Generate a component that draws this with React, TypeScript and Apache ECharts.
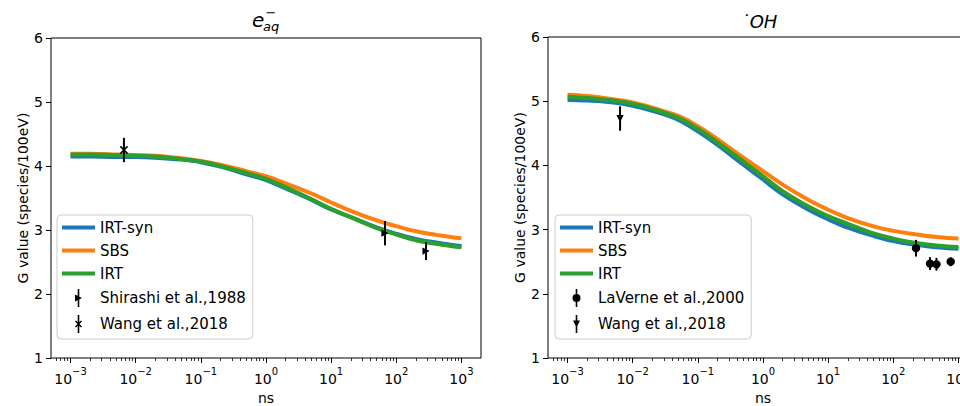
import React, { useEffect, useRef } from 'react';
import * as echarts from 'echarts';

// ---------- data ----------
const TIMES_NS = [0.001, 0.002, 0.005, 0.01, 0.02, 0.05, 0.1, 0.2, 0.5, 1, 2, 5, 10, 20, 50, 100, 200, 500, 1000];

const EAQ_IRT_SYN = [4.15, 4.15, 4.14, 4.14, 4.13, 4.10, 4.06, 3.99, 3.87, 3.78, 3.65, 3.47, 3.32, 3.20, 3.04, 2.94, 2.86, 2.79, 2.75];
const EAQ_SBS = [4.19, 4.19, 4.18, 4.17, 4.16, 4.12, 4.08, 4.02, 3.92, 3.84, 3.73, 3.57, 3.43, 3.30, 3.15, 3.06, 2.98, 2.91, 2.87];
const EAQ_IRT = [4.18, 4.18, 4.17, 4.16, 4.15, 4.11, 4.07, 4.00, 3.89, 3.80, 3.67, 3.48, 3.33, 3.20, 3.03, 2.93, 2.84, 2.77, 2.73];

const OH_IRT_SYN = [5.02, 5.01, 4.98, 4.93, 4.85, 4.71, 4.53, 4.32, 4.01, 3.78, 3.55, 3.31, 3.16, 3.03, 2.90, 2.82, 2.77, 2.72, 2.70];
const OH_SBS = [5.10, 5.08, 5.03, 4.98, 4.90, 4.77, 4.61, 4.41, 4.12, 3.91, 3.70, 3.46, 3.31, 3.18, 3.05, 2.98, 2.93, 2.88, 2.86];
const OH_IRT = [5.07, 5.05, 5.01, 4.96, 4.88, 4.74, 4.57, 4.36, 4.06, 3.83, 3.60, 3.36, 3.21, 3.09, 2.94, 2.86, 2.80, 2.75, 2.73];

const SHIRASHI_T = [67, 286];
const SHIRASHI_G = [2.95, 2.67];
const SHIRASHI_ERR = [0.19, 0.14];

const WANG_EAQ_T = [0.0066];
const WANG_EAQ_G = [4.25];
const WANG_EAQ_ERR = [0.19];

const LAVERNE_T = [223, 366, 460, 760];
const LAVERNE_G = [2.71, 2.47, 2.46, 2.50];
const LAVERNE_ERR = [0.13, 0.1, 0.1, 0.07];

const WANG_OH_T = [0.0064];
const WANG_OH_G = [4.73];
const WANG_OH_ERR = [0.19];

const LINE_NAMES = ['IRT-syn', 'SBS', 'IRT'];
const LINE_COLORS = ['#1f77b4', '#ff7f0e', '#2ca02c'];

const X_TICK_EXPONENTS = [-3, -2, -1, 0, 1, 2, 3];
const X_TICK_SUPERSCRIPTS = ['−3', '−2', '−1', '0', '1', '2', '3'];
const Y_MIN = 1;
const Y_MAX = 6;

const FONT = 'DejaVu Sans';

// ---------- helpers ----------
const X_MIN = -3.3;
const X_MAX = 3.3;
const MINOR_TICKS: number[] = [];
for (let n = -4; n <= 3; n++) {
  for (let k = 2; k <= 9; k++) {
    const v = Math.log10(k * Math.pow(10, n));
    if (v >= X_MIN && v <= X_MAX) MINOR_TICKS.push(v);
  }
}

const toXY = (ts: number[], gs: number[]) => ts.map((t, i) => [Math.log10(t), gs[i]]);
const toErr = (ts: number[], gs: number[], es: number[]) => ts.map((t, i) => [Math.log10(t), gs[i], es[i]]);

const BAR = 'M4.2 0h1.6v18h-1.6z';
const ICON_LINE = 'path://M0 0h33v4h-33z';
const ICON_TRI_RIGHT = 'path://' + BAR + 'M1.5 5.5L8.5 9L1.5 12.5z';
const ICON_X = 'path://' + BAR + 'M1.5 6.5L2.5 5.5L8.5 11.5L7.5 12.5zM7.5 5.5L8.5 6.5L2.5 12.5L1.5 11.5z';
const ICON_CIRCLE = 'path://' + BAR + 'M1 9a4 4 0 1 1 8 0a4 4 0 1 1 -8 0z';
const ICON_TRI_DOWN = 'path://' + BAR + 'M1.5 5.5L8.5 5.5L5 12.5z';

type MarkerKind = 'tri-right' | 'x' | 'circle' | 'tri-down';

function makeMarker(kind: MarkerKind, cx: number, cy: number): any {
  const r = 3.6;
  if (kind === 'tri-right') {
    return { type: 'polygon', shape: { points: [[cx - r, cy - r], [cx + r, cy], [cx - r, cy + r]] }, style: { fill: '#000' } };
  }
  if (kind === 'tri-down') {
    return { type: 'polygon', shape: { points: [[cx - r, cy - r], [cx + r, cy - r], [cx, cy + r]] }, style: { fill: '#000' } };
  }
  if (kind === 'circle') {
    return { type: 'circle', shape: { cx, cy, r: 4.2 }, style: { fill: '#000' } };
  }
  return {
    type: 'group',
    children: [
      { type: 'line', shape: { x1: cx - r, y1: cy - r, x2: cx + r, y2: cy + r }, style: { stroke: '#000', lineWidth: 1.5 } },
      { type: 'line', shape: { x1: cx - r, y1: cy + r, x2: cx + r, y2: cy - r }, style: { stroke: '#000', lineWidth: 1.5 } },
    ],
  };
}

function errSeries(name: string, data: number[][], kind: MarkerKind, axisIdx: number, yIdx: number) {
  return {
    name,
    type: 'custom',
    xAxisIndex: axisIdx,
    yAxisIndex: yIdx,
    itemStyle: { color: '#000' },
    z: 5,
    encode: { x: 0, y: 1 },
    data,
    renderItem: (params: any, api: any) => {
      const x = api.value(0);
      const y = api.value(1);
      const e = api.value(2);
      const p = api.coord([x, y]);
      const top = api.coord([x, y + e]);
      const bot = api.coord([x, y - e]);
      return {
        type: 'group',
        children: [
          { type: 'line', shape: { x1: p[0], y1: top[1], x2: p[0], y2: bot[1] }, style: { stroke: '#000', lineWidth: 2 } },
          makeMarker(kind, p[0], p[1]),
        ],
      };
    },
  };
}

function lineSeries(idx: number, vals: number[], xIdx: number, yIdx: number) {
  return {
    name: LINE_NAMES[idx],
    type: 'line',
    xAxisIndex: xIdx,
    yAxisIndex: yIdx,
    data: toXY(TIMES_NS, vals),
    symbol: 'none',
    smooth: 0.4,
    lineStyle: { color: LINE_COLORS[idx], width: 4 },
    itemStyle: { color: LINE_COLORS[idx] },
    z: 2 + idx * 0.1,
  };
}

const GRIDS = [
  { left: 51, top: 38, width: 430, height: 320 },
  { left: 548, top: 37, width: 430, height: 321 },
];

const TXT = { fontSize: 14, fontFamily: FONT, color: '#000' };
const LEGEND_TXT = { fontSize: 15, fontFamily: FONT, color: '#000' };

function xAxes(g: number) {
  return [
    {
      type: 'value',
      gridIndex: g,
      min: X_MIN,
      max: X_MAX,
      position: 'bottom',
      axisLine: { show: false, onZero: false },
      splitLine: { show: false },
      axisTick: { show: true, customValues: X_TICK_EXPONENTS, length: 5, lineStyle: { color: '#000', width: 1 } },
      axisLabel: {
        customValues: X_TICK_EXPONENTS,
        formatter: (v: number) => {
          const i = X_TICK_EXPONENTS.indexOf(Math.round(v));
          return i < 0 ? '' : '{b|10}{s|' + X_TICK_SUPERSCRIPTS[i] + '}';
        },
        margin: 8,
        rich: {
          b: { fontSize: 14, fontFamily: FONT, color: '#000', lineHeight: 20, verticalAlign: 'bottom' },
          s: { fontSize: 10, fontFamily: FONT, color: '#000', lineHeight: 8, verticalAlign: 'top' },
        },
      },
      name: 'ns',
      nameLocation: 'middle',
      nameGap: 33,
      nameTextStyle: TXT,
    },
    {
      type: 'value',
      gridIndex: g,
      min: X_MIN,
      max: X_MAX,
      position: 'bottom',
      axisLine: { show: false, onZero: false },
      splitLine: { show: false },
      axisLabel: { show: false },
      axisTick: { show: true, customValues: MINOR_TICKS, length: 3, lineStyle: { color: '#000', width: 0.8 } },
    },
  ];
}

function yAxis(g: number) {
  return {
    type: 'value',
    gridIndex: g,
    min: Y_MIN,
    max: Y_MAX,
    interval: 1,
    axisLine: { show: false, onZero: false },
    splitLine: { show: false },
    axisTick: { show: true, length: 5, lineStyle: { color: '#000', width: 1 } },
    axisLabel: { ...TXT, margin: 8 },
    name: 'G value (species/100eV)',
    nameLocation: 'middle',
    nameGap: 20,
    nameTextStyle: TXT,
  };
}

function legend(left: number, items: any[]) {
  return {
    left,
    top: 215,
    orient: 'vertical',
    itemWidth: 33,
    itemHeight: 18,
    itemGap: 8,
    itemTextGap: 12,
    padding: [5, 7, 6, 5],
    backgroundColor: 'rgba(255,255,255,0.8)',
    borderColor: '#cccccc',
    borderWidth: 1,
    borderRadius: 4,
    selectedMode: false,
    symbolKeepAspect: true,
    textStyle: LEGEND_TXT,
    data: items.map((it) => ({ ...it, textStyle: LEGEND_TXT })),
  };
}

export default function App() {
  const ref = useRef<HTMLDivElement>(null);
  useEffect(() => {
    if (!ref.current) return;
    const chart = echarts.init(ref.current, undefined, { renderer: 'svg' });
    chart.setOption({
      animation: false,
      backgroundColor: '#ffffff',
      textStyle: { fontFamily: FONT, fontSize: 14 },
      grid: GRIDS.map((g) => ({
        ...g,
        show: true,
        borderColor: '#000',
        borderWidth: 1,
        backgroundColor: 'transparent',
        containLabel: false,
        outerBoundsMode: 'none',
      })),
      xAxis: [...xAxes(0), ...xAxes(1)],
      yAxis: [yAxis(0), yAxis(1)],
      legend: [
        legend(57, [
          { name: 'IRT-syn', icon: ICON_LINE },
          { name: 'SBS', icon: ICON_LINE },
          { name: 'IRT', icon: ICON_LINE },
          { name: 'Shirashi et al.,1988', icon: ICON_TRI_RIGHT },
          { name: 'Wang et al.,2018', icon: ICON_X },
        ]),
        legend(555, [
          { name: 'IRT-syn', icon: ICON_LINE },
          { name: 'SBS', icon: ICON_LINE },
          { name: 'IRT', icon: ICON_LINE },
          { name: 'LaVerne et al.,2000', icon: ICON_CIRCLE },
          { name: 'Wang et al.,2018', icon: ICON_TRI_DOWN },
        ]),
      ],
      graphic: [
        { type: 'text', x: 252, y: 20, style: { text: 'e', fontSize: 20, fontStyle: 'italic', fontFamily: FONT, fill: '#000', verticalAlign: 'middle' } },
        { type: 'text', x: 263, y: 26, style: { text: 'aq', fontSize: 13, fontStyle: 'italic', fontFamily: FONT, fill: '#000', verticalAlign: 'middle' } },
        { type: 'text', x: 265.5, y: 12.5, style: { text: '−', fontSize: 13, fontFamily: FONT, fill: '#000', verticalAlign: 'middle' } },
        { type: 'text', x: 759, y: 21.5, style: { text: '˙OH', fontSize: 18, fontStyle: 'italic', fontFamily: FONT, fill: '#000', align: 'center', verticalAlign: 'middle' } },
      ],
      series: [
        lineSeries(0, EAQ_IRT_SYN, 0, 0),
        lineSeries(1, EAQ_SBS, 0, 0),
        lineSeries(2, EAQ_IRT, 0, 0),
        errSeries('Shirashi et al.,1988', toErr(SHIRASHI_T, SHIRASHI_G, SHIRASHI_ERR), 'tri-right', 0, 0),
        errSeries('Wang et al.,2018', toErr(WANG_EAQ_T, WANG_EAQ_G, WANG_EAQ_ERR), 'x', 0, 0),
        lineSeries(0, OH_IRT_SYN, 2, 1),
        lineSeries(1, OH_SBS, 2, 1),
        lineSeries(2, OH_IRT, 2, 1),
        errSeries('LaVerne et al.,2000', toErr(LAVERNE_T, LAVERNE_G, LAVERNE_ERR), 'circle', 2, 1),
        errSeries('Wang et al.,2018', toErr(WANG_OH_T, WANG_OH_G, WANG_OH_ERR), 'tri-down', 2, 1),
      ],
    });
    return () => chart.dispose();
  }, []);
  return <div ref={ref} style={{ position: 'fixed', left: 0, top: 0, width: 960, height: 406 }} />;
}
